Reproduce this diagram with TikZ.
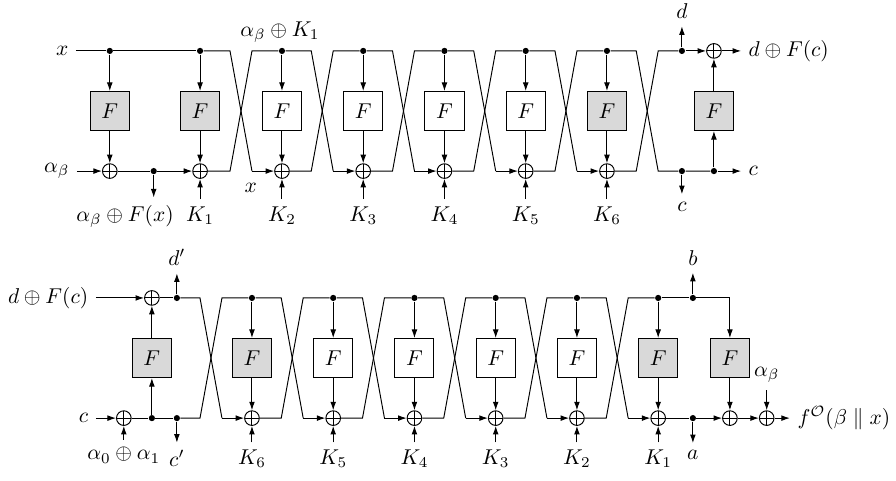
\documentclass[tikz,border=0pt]{standalone}
\usepackage{amsmath,amssymb}
\usetikzlibrary{arrows.meta,positioning,calc}

\begin{document}
\begin{tikzpicture}[>={Latex[length=1.4mm,width=0.95mm]}, line width=0.45pt,
  fbox/.style={draw, minimum size=0.64cm, inner sep=0pt},
  gbox/.style={fbox, fill=black!15},
  xor/.style={draw, circle, minimum size=0.24cm, inner sep=0pt,
    path picture={\draw (path picture bounding box.north) -- (path picture bounding box.south)
                        (path picture bounding box.west) -- (path picture bounding box.east);}},
  dot/.style={circle, fill, inner sep=0pt, minimum size=2.9pt}]
  \useasboundingbox (0,0) rectangle (14.69,7.885);

  % ---- upper cascade ----
  \node (x) at (1.02,7.05) {$x$};
  \node (ab) at (0.93,5.08) {$\alpha_\beta$};
  \node[dot] (t0) at (1.80,7.05) {};
  \node[gbox] (F0) at (1.80,6.065) {$F$};
  \node[xor] (o0) at (1.80,5.08) {};
  \node[dot] (s0) at (2.52,5.08) {};
  \node (aF) at (2.05,4.34) {$\alpha_\beta\oplus F(x)$};
  \node[dot] (t1) at (3.28,7.05) {};
  \node[gbox] (F1) at (3.28,6.065) {$F$};
  \node[xor] (o1) at (3.28,5.08) {};
  \node (k1) at (3.28,4.35) {$K_1$};
  \node (aK) at (4.59,7.36) {$\alpha_\beta\oplus K_1$};
  \node (xl) at (4.11,4.80) {$x$};
  \draw (x) -- (t0) -- (t1);
  \draw[->] (ab) -- (o0);
  \draw (o0) -- (s0);
  \draw[->] (s0) -- (o1);
  \draw[->] (s0) -- (s0 |- aF.north);
  \draw[->] (t0) -- (F0);
  \draw[->] (F0) -- (o0);
  \draw[->] (t1) -- (F1);
  \draw[->] (F1) -- (o1);
  \draw[->] (k1) -- (o1);
  \foreach \n/\fc in {2/white,3/white,4/white,5/white,6/black!15} {
    \pgfmathsetmacro{\fx}{4.623+1.332*(\n-2)}
    \pgfmathtruncatemacro{\p}{\n-1}
    \coordinate (ul\n) at ({\fx-0.852},7.05);
    \coordinate (ur\n) at ({\fx-0.492},7.05);
    \coordinate (ll\n) at ({\fx-0.852},5.08);
    \coordinate (lr\n) at ({\fx-0.492},5.08);
    \node[dot] (t\n) at (\fx,7.05) {};
    \node[fbox, fill=\fc] (F\n) at (\fx,6.065) {$F$};
    \node[xor] (o\n) at (\fx,5.08) {};
    \node (k\n) at (\fx,4.35) {$K_{\n}$};
    \draw (t\p) -- (ul\n) -- (lr\n);
    \draw (o\p) -- (ll\n) -- (ur\n) -- (t\n);
    \draw[->] (lr\n) -- (o\n);
    \draw[->] (t\n) -- (F\n);
    \draw[->] (F\n) -- (o\n);
    \draw[->] (k\n) -- (o\n);
  }
  \coordinate (ul7) at (10.431,7.05);
  \coordinate (ur7) at (10.791,7.05);
  \coordinate (ll7) at (10.431,5.08);
  \coordinate (lr7) at (10.791,5.08);
  \node[dot] (dd) at (11.18,7.05) {};
  \node[dot] (cc) at (11.18,5.08) {};
  \node (d) at (11.18,7.70) {$d$};
  \node (c) at (11.18,4.50) {$c$};
  \node[xor] (o7) at (11.705,7.05) {};
  \node[gbox] (F7) at (11.705,6.065) {$F$};
  \node[dot] (s7) at (11.705,5.08) {};
  \node[anchor=west] (dF) at (12.15,7.05) {$d\oplus F(c)$};
  \node[anchor=west] (cr) at (12.15,5.08) {$c$};
  \draw (t6) -- (ul7) -- (lr7) -- (cc) -- (s7);
  \draw (o6) -- (ll7) -- (ur7) -- (dd);
  \draw[->] (dd) -- (o7);
  \draw[->] (o7) -- (dF);
  \draw[->] (s7) -- (cr);
  \draw[->] (dd) -- (d);
  \draw[->] (cc) -- (c);
  \draw[->] (s7) -- (F7);
  \draw[->] (F7) -- (o7);

  % ---- lower cascade ----
  \node[anchor=east] (dFin) at (1.57,3.0) {$d\oplus F(c)$};
  \node[anchor=east] (cin) at (1.57,1.03) {$c$};
  \node[xor] (q0) at (2.03,1.03) {};
  \node (al) at (2.03,0.42) {$\alpha_0\oplus\alpha_1$};
  \node[xor] (p0) at (2.49,3.0) {};
  \node[gbox] (G0) at (2.49,2.015) {$F$};
  \node[dot] (r0) at (2.49,1.03) {};
  \node[dot] (u0) at (2.90,3.0) {};
  \node[dot] (v0) at (2.90,1.03) {};
  \node (dp) at (2.90,3.66) {$d'$};
  \node (cp) at (2.90,0.37) {$c'$};
  \draw[->] (dFin) -- (p0);
  \draw (p0) -- (u0);
  \draw[->] (cin) -- (q0);
  \draw (q0) -- (r0) -- (v0);
  \draw[->] (al) -- (q0);
  \draw[->] (r0) -- (G0);
  \draw[->] (G0) -- (p0);
  \draw[->] (u0) -- (dp);
  \draw[->] (v0) -- (cp);
  \foreach \n/\kk/\fc in {1/6/black!15,2/5/white,3/4/white,4/3/white,5/2/white,6/1/black!15} {
    \pgfmathsetmacro{\fx}{4.131+1.332*(\n-1)}
    \pgfmathtruncatemacro{\p}{\n-1}
    \coordinate (gul\n) at ({\fx-0.852},3.0);
    \coordinate (gur\n) at ({\fx-0.492},3.0);
    \coordinate (gll\n) at ({\fx-0.852},1.03);
    \coordinate (glr\n) at ({\fx-0.492},1.03);
    \node[dot] (u\n) at (\fx,3.0) {};
    \node[fbox, fill=\fc] (G\n) at (\fx,2.015) {$F$};
    \node[xor] (v\n) at (\fx,1.03) {};
    \node (h\n) at (\fx,0.36) {$K_{\kk}$};
    \draw (u\p) -- (gul\n) -- (glr\n);
    \draw (v\p) -- (gll\n) -- (gur\n) -- (u\n);
    \draw[->] (glr\n) -- (v\n);
    \draw[->] (u\n) -- (G\n);
    \draw[->] (G\n) -- (v\n);
    \draw[->] (h\n) -- (v\n);
  }
  \node[dot] (bd) at (11.36,3.0) {};
  \node[dot] (ad) at (11.36,1.03) {};
  \node (b) at (11.36,3.66) {$b$};
  \node (a) at (11.36,0.42) {$a$};
  \coordinate (g7) at (11.967,3.0);
  \node[gbox] (G7) at (11.967,2.015) {$F$};
  \node[xor] (v7) at (11.967,1.03) {};
  \node[xor] (v8) at (12.57,1.03) {};
  \node (ab2) at (12.57,1.74) {$\alpha_\beta$};
  \node[anchor=west] (fO) at (12.95,1.03) {$f^{\mathcal{O}}(\beta\parallel x)$};
  \draw (u6) -- (bd) -- (g7);
  \draw[->] (g7) -- (G7);
  \draw (v6) -- (ad);
  \draw[->] (ad) -- (v7);
  \draw[->] (bd) -- (b);
  \draw[->] (ad) -- (a);
  \draw[->] (G7) -- (v7);
  \draw[->] (v7) -- (v8);
  \draw[->] (ab2) -- (v8);
  \draw[->] (v8) -- (fO);
\end{tikzpicture}
\end{document}
